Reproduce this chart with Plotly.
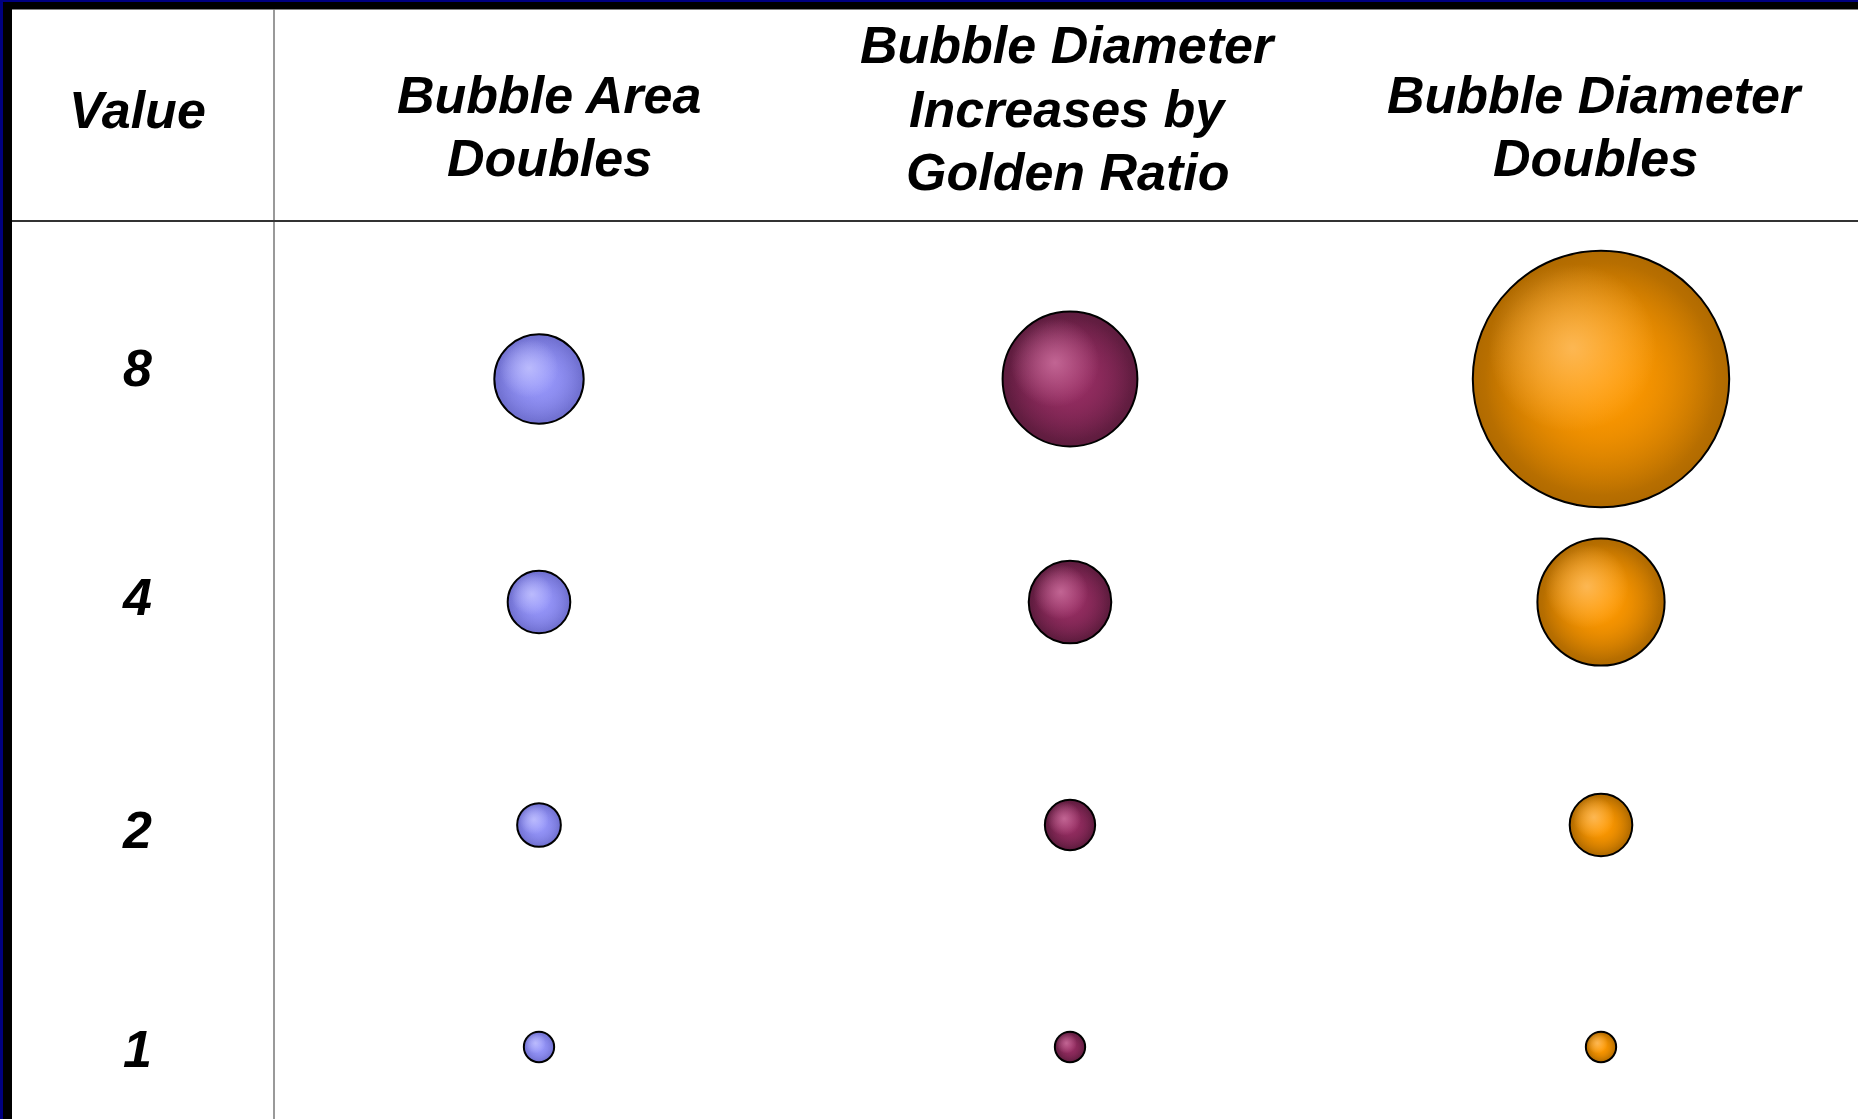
import math
import plotly.graph_objects as go

# data
values = [1, 2, 4, 8]
row_labels = ["1", "2", "4", "8"]
corner_label = "Value"
col_titles = [
    ["Bubble Area", "Doubles"],
    ["Bubble Diameter", "Increases by", "Golden Ratio"],
    ["Bubble Diameter", "Doubles"],
]
col_rules = ["area", "golden", "diameter"]

# styles
base_rgb = [(150, 150, 250), (150, 45, 98), (255, 153, 0)]
edge_colors = ["#7070d0", "#5e1c3e", "#b06a00"]
shine_rgb = [(200, 200, 255), (210, 120, 165), (255, 195, 110)]

W, H = 1858, 1119
LEFT, TOP = 12, 9
BASE_D = 32.3  # px diameter for value 1
GOLDEN = (1 + 5 ** 0.5) / 2

# pixel layout of the table
col_px = [539, 1070, 1601]
row_px = [1047, 825, 602, 379]  # value 1, 2, 4, 8
label_px = [1049, 830, 597, 368]
unit_x = col_px[1] - col_px[0]
unit_y = 223


def px_to_x(px):
    return 1 + (px - col_px[0]) / unit_x


def py_to_y(py):
    return (row_px[0] - py) / unit_y


def diameter(rule, v):
    if rule == "area":
        return BASE_D * math.sqrt(v)
    if rule == "golden":
        return BASE_D * GOLDEN ** math.log2(v)
    return BASE_D * v


def rgba(c, a):
    return f"rgba({c[0]},{c[1]},{c[2]},{a})"


fig = go.Figure()

for ci, rule in enumerate(col_rules):
    xs = [ci + 1] * len(values)
    ys = [py_to_y(p) for p in row_px]
    ds = [diameter(rule, v) for v in values]
    # sphere body: base colour in the middle, darker rim
    fig.add_trace(go.Scatter(
        x=xs, y=ys, mode="markers", hoverinfo="skip", showlegend=False,
        marker=dict(size=[d - 2 for d in ds], color=edge_colors[ci], opacity=1,
                    gradient=dict(type="radial", color=rgba(base_rgb[ci], 1)),
                    line=dict(color="black", width=2)),
    ))
    # flat core of base colour, fading out toward the rim
    fig.add_trace(go.Scatter(
        x=xs, y=ys, mode="markers", hoverinfo="skip", showlegend=False,
        marker=dict(size=[d * 0.9 for d in ds], color=rgba(base_rgb[ci], 0), opacity=1,
                    gradient=dict(type="radial", color=rgba(base_rgb[ci], 1)),
                    line=dict(width=0)),
    ))
    # soft highlight toward the upper left
    hx = [x - 0.11 * d / unit_x for x, d in zip(xs, ds)]
    hy = [y + 0.12 * d / unit_y for y, d in zip(ys, ds)]
    fig.add_trace(go.Scatter(
        x=hx, y=hy, mode="markers", hoverinfo="skip", showlegend=False,
        marker=dict(size=[d * 0.65 for d in ds], color=rgba(shine_rgb[ci], 0), opacity=1,
                    gradient=dict(type="radial", color=rgba(shine_rgb[ci], 0.75)),
                    line=dict(width=0)),
    ))

font = dict(family="Liberation Sans, Arial, sans-serif", size=52, color="black",
            weight="bold", style="italic")
annotations = []
title_lines_px = {2: [95, 158], 3: [45, 109, 172]}
title_cx = [549, 1068, 1595]
for ci, lines in enumerate(col_titles):
    for line, py in zip(lines, title_lines_px[len(lines)]):
        annotations.append(dict(x=px_to_x(title_cx[ci]), y=py_to_y(py), text=line,
                                showarrow=False, xanchor="center", yanchor="middle", font=font))
annotations.append(dict(x=px_to_x(137), y=py_to_y(110), text=corner_label, showarrow=False,
                        xanchor="center", yanchor="middle", font=font))
for lab, py in zip(row_labels, label_px):
    annotations.append(dict(x=px_to_x(137), y=py_to_y(py), text=lab, showarrow=False,
                            xanchor="center", yanchor="middle", font=font))


def pxp(px):
    return px / W


def pyp(py):
    return 1 - py / H


shapes = [
    # black frame strips
    dict(type="rect", xref="paper", yref="paper", x0=pxp(3), x1=pxp(LEFT), y0=0, y1=pyp(2),
         fillcolor="black", line=dict(width=0), layer="above"),
    dict(type="rect", xref="paper", yref="paper", x0=pxp(3), x1=1, y0=pyp(TOP), y1=pyp(2),
         fillcolor="black", line=dict(width=0), layer="above"),
    # table borders
    dict(type="line", xref="paper", yref="paper", x0=pxp(LEFT), x1=1, y0=pyp(TOP + 0.5), y1=pyp(TOP + 0.5),
         line=dict(color="#808080", width=1)),
    dict(type="line", xref="paper", yref="paper", x0=pxp(274), x1=pxp(274), y0=0, y1=pyp(TOP),
         line=dict(color="#777777", width=1.5)),
    dict(type="line", xref="paper", yref="paper", x0=pxp(LEFT), x1=1, y0=pyp(221), y1=pyp(221),
         line=dict(color="#333333", width=2)),
]

fig.update_layout(
    width=W, height=H, margin=dict(l=0, r=0, t=0, b=0, pad=0),
    paper_bgcolor="#000080", plot_bgcolor="white",
    xaxis=dict(domain=[LEFT / W, 1], range=[px_to_x(LEFT), px_to_x(W)], visible=False,
               fixedrange=True),
    yaxis=dict(domain=[0, 1 - TOP / H], range=[py_to_y(H), py_to_y(TOP)], visible=False,
               fixedrange=True),
    annotations=annotations, shapes=shapes,
)

fig.write_html("out.html", config={"displayModeBar": False},
               post_script="document.body.style.margin='0';document.body.style.overflow='hidden';")
